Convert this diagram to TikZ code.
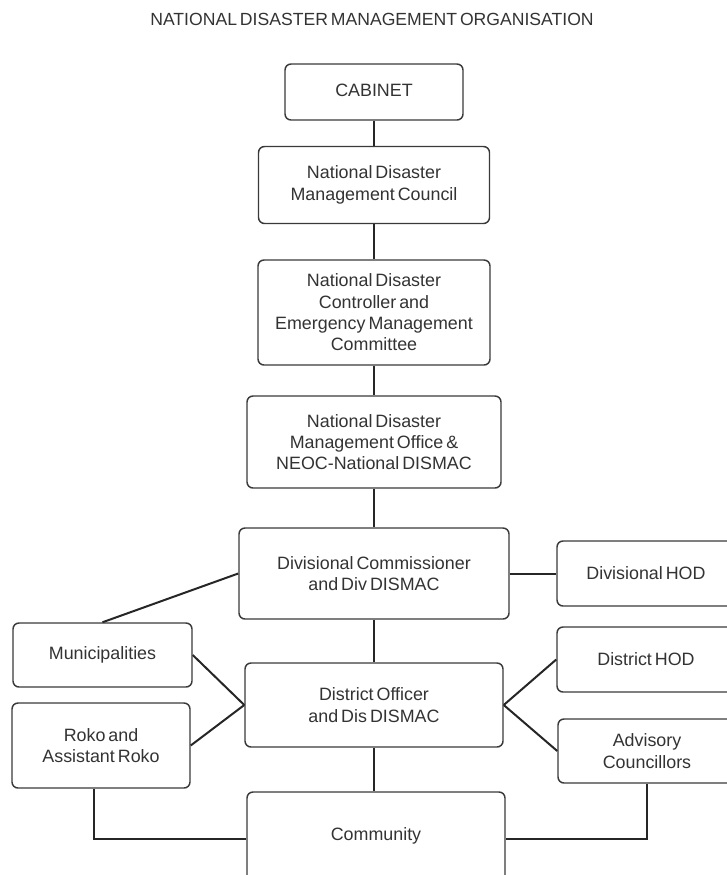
\documentclass[tikz,border=0pt]{standalone}
\usepackage{fontspec}
\setmainfont{Liberation Sans}[WordSpace=0.6]
\definecolor{ink}{HTML}{333333}
\definecolor{edge}{HTML}{3A3A3A}
\begin{document}
\begin{tikzpicture}[x=0.75pt,y=-0.75pt,
  box/.style={draw=edge, line width=1.1pt, rounded corners=4.5pt, fill=white,
    align=center, text=ink, inner sep=2pt,
    font=\fontsize{13.4}{16}\selectfont},
  link/.style={draw=black!85, line width=1.5pt}]
\useasboundingbox (0,0) rectangle (727,875);
\clip (0,0) rectangle (727,875);
\node[text=ink, font=\fontsize{13.2}{16}\selectfont] (title) at (372,19) {NATIONAL DISASTER MANAGEMENT ORGANISATION};

\node[box, minimum width=178*0.75pt, minimum height=56*0.75pt] (cab) at (374,92) {\raisebox{3pt}{CABINET}};
\node[box, minimum width=231*0.75pt, minimum height=77*0.75pt] (ndmc) at (374,185) {National Disaster\\Management Council};
\node[box, minimum width=232*0.75pt, minimum height=105*0.75pt] (ndc) at (374,312.5) {National Disaster\\Controller and\\Emergency Management\\Committee};
\node[box, minimum width=254*0.75pt, minimum height=92*0.75pt] (ndmo) at (374,442) {National Disaster\\Management Office \&\\NEOC-National DISMAC};
\node[box, minimum width=270*0.75pt, minimum height=91*0.75pt] (divc) at (374,573.5) {Divisional Commissioner\\and Div DISMAC};
\node[box, minimum width=178*0.75pt, minimum height=65*0.75pt] (divhod) at (646,573.5) {Divisional HOD};
\node[box, minimum width=179*0.75pt, minimum height=64*0.75pt] (muni) at (102.5,655) {Municipalities};
\node[box, minimum width=178*0.75pt, minimum height=85*0.75pt] (roko) at (101,745.5) {Roko and\\Assistant Roko};
\node[box, minimum width=258*0.75pt, minimum height=84*0.75pt] (do) at (374,705) {District Officer\\and Dis DISMAC};
\node[box, minimum width=178*0.75pt, minimum height=65*0.75pt] (dhod) at (646,659.5) {District HOD};
\node[box, minimum width=178*0.75pt, minimum height=64*0.75pt] (adv) at (647,751) {Advisory\\Councillors};
\node[box, minimum width=258*0.75pt, minimum height=90*0.75pt] (comm) at (376,837) {\raisebox{4pt}{Community}};

\draw[link] (cab.south) -- (ndmc.north);
\draw[link] (ndmc.south) -- (ndc.north);
\draw[link] (ndc.south) -- (ndmo.north);
\draw[link] (ndmo.south) -- (divc.north);
\draw[link] (divc.south) -- (do.north);
\draw[link] (do.south) -- (comm.north -| do.south);
\draw[link] (divc.east) -- (divhod.west);
\draw[link] (divc.west) -- (muni.north);
\draw[link] (muni.east) -- (do.west);
\draw[link] (roko.east) -- (do.west);
\draw[link] (do.east) -- (dhod.west);
\draw[link] (do.east) -- (adv.west);
\draw[link] ([xshift=-5.25pt]roko.south) |- ([yshift=-1.5pt]comm.west);
\draw[link] (adv.south) |- ([yshift=-1.5pt]comm.east);
\end{tikzpicture}
\end{document}
